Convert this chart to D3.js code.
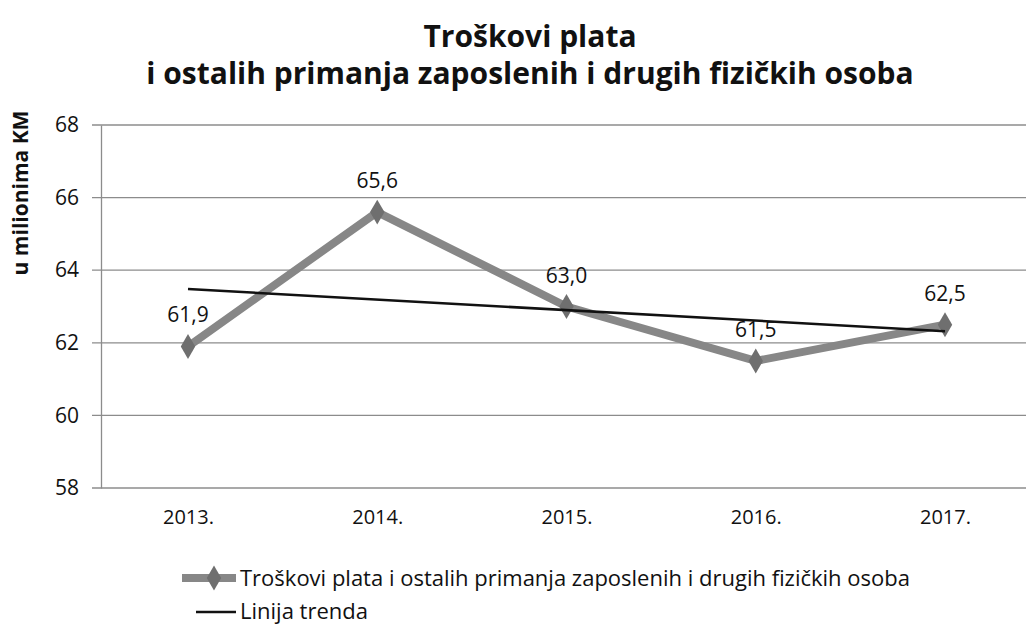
<!DOCTYPE html>
<html>
<head>
<meta charset="utf-8">
<script src="https://cdn.jsdelivr.net/npm/d3@7"></script>
<style>
  body { margin: 0; background: #fff; }
  text { font-family: "Open Sans", "Noto Sans", sans-serif; fill: #111; }
</style>
</head>
<body>
<div id="chart"></div>
<script>
// data
var years = ["2013.", "2014.", "2015.", "2016.", "2017."];
var values = [61.9, 65.6, 63.0, 61.5, 62.5];
var trendValues = [63.48, 62.32];   // linija trenda, first and last year
var yTicks = [58, 60, 62, 64, 66, 68];
var seriesName = "Troškovi plata i ostalih primanja zaposlenih i drugih fizičkih osoba";
var trendName = "Linija trenda";

var svgWidth = 1026;
var svgHeight = 626;

var svg = d3.select("#chart")
  .append("svg")
  .attr("width", svgWidth)
  .attr("height", svgHeight);

var xScale = d3.scalePoint()
  .domain(years)
  .range([188, 945]);

var yScale = d3.scaleLinear()
  .domain([58, 68])
  .range([488, 125]);

// title
svg.append("text")
  .attr("x", 530).attr("y", 47)
  .attr("text-anchor", "middle")
  .style("font-size", "30px").style("font-weight", "bold")
  .text("Troškovi plata");
svg.append("text")
  .attr("x", 530).attr("y", 84)
  .attr("text-anchor", "middle")
  .style("font-size", "30px").style("font-weight", "bold")
  .text("i ostalih primanja zaposlenih i drugih fizičkih osoba");

// grid
svg.append("g")
  .selectAll("line")
  .data(yTicks)
  .enter()
  .append("line")
  .attr("x1", 92).attr("x2", 1026)
  .attr("y1", d => yScale(d)).attr("y2", d => yScale(d))
  .attr("stroke", "#8c8c8c")
  .attr("stroke-width", 1.3);

// left axis
var leftAxis = d3.axisLeft(yScale).tickValues(yTicks).tickSize(0).tickPadding(22);
var gy = svg.append("g")
  .attr("transform", "translate(101,0)")
  .call(leftAxis);
gy.select(".domain").attr("stroke", "#8c8c8c").attr("stroke-width", 1.3);
gy.selectAll("text")
  .style("font-size", "21px")
  .style("font-family", "'Open Sans', sans-serif")
  .attr("fill", "#111");

svg.append("text")
  .attr("transform", "rotate(-90)")
  .attr("x", -193).attr("y", 28)
  .attr("text-anchor", "middle")
  .style("font-size", "21px").style("font-weight", "bold")
  .text("u milionima KM");

// bottom axis labels
var bottomAxis = d3.axisBottom(xScale).tickSize(0).tickPadding(22);
var gx = svg.append("g")
  .attr("transform", "translate(0,488)")
  .call(bottomAxis);
gx.select(".domain").remove();
gx.selectAll("text")
  .style("font-size", "20px")
  .style("font-family", "'Open Sans', sans-serif")
  .attr("fill", "#111");

// series line
var line = d3.line()
  .x((d, i) => xScale(years[i]))
  .y(d => yScale(d));

svg.append("path")
  .datum(values)
  .attr("d", line)
  .attr("fill", "none")
  .attr("stroke", "#878787")
  .attr("stroke-width", 8)
  .attr("stroke-linejoin", "round");

var diamond = d3.symbol().type(d3.symbolDiamond).size(180);
svg.selectAll(".marker")
  .data(values)
  .enter()
  .append("path")
  .attr("class", "marker")
  .attr("d", diamond)
  .attr("transform", (d, i) => `translate(${xScale(years[i])},${yScale(d)})`)
  .attr("fill", "#6f6f6f");

// trend line
svg.append("line")
  .attr("x1", xScale(years[0])).attr("y1", yScale(trendValues[0]))
  .attr("x2", xScale(years[years.length - 1])).attr("y2", yScale(trendValues[1]))
  .attr("stroke", "#111")
  .attr("stroke-width", 2.5);

// data labels
svg.selectAll(".lbl")
  .data(values)
  .enter()
  .append("text")
  .attr("class", "lbl")
  .attr("x", (d, i) => xScale(years[i]))
  .attr("y", d => yScale(d) - 24)
  .attr("text-anchor", "middle")
  .style("font-size", "21px")
  .text(d => d.toFixed(1).replace(".", ","));

// legend
var lg = svg.append("g");
lg.append("line")
  .attr("x1", 182).attr("x2", 236).attr("y1", 578).attr("y2", 578)
  .attr("stroke", "#878787").attr("stroke-width", 8);
lg.append("path")
  .attr("d", diamond)
  .attr("transform", "translate(214,578)")
  .attr("fill", "#6f6f6f");
lg.append("text")
  .attr("x", 240).attr("y", 586)
  .style("font-size", "22px")
  .text(seriesName);
lg.append("line")
  .attr("x1", 196).attr("x2", 236).attr("y1", 612).attr("y2", 612)
  .attr("stroke", "#111").attr("stroke-width", 2.5);
lg.append("text")
  .attr("x", 240).attr("y", 619)
  .style("font-size", "22px")
  .text(trendName);
</script>
</body>
</html>
